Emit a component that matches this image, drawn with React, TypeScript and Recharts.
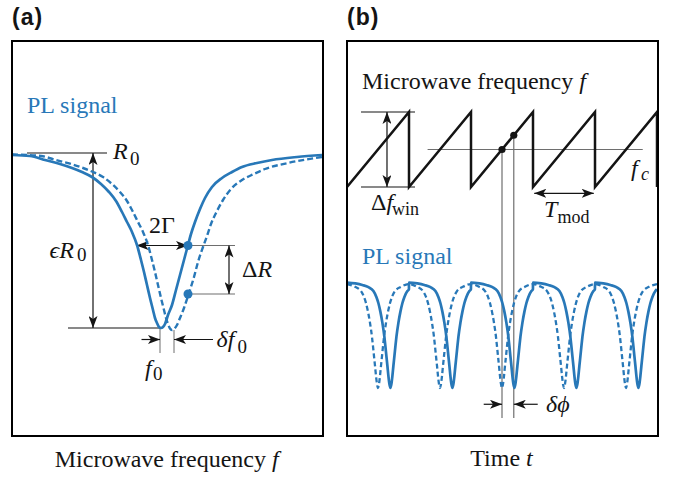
import React from 'react';
import { LineChart, Line, XAxis, YAxis, ReferenceLine, ReferenceDot } from 'recharts';

const BLUE = '#2878b8';
const INK = '#141414';
const GREY = '#6e6e6e';
const SERIF = "'Liberation Serif', 'Times New Roman', serif";

// (a) PL vs microwave frequency; f - f0 in a.u., PL in % of R0
const sweepFreq = [
  -14.9, -13.1, -11.6, -10.1, -8.9, -7.9, -6.9, -6.0, -5.2, -4.5, -3.9, -3.4, -2.9, -2.4, -2.0, -1.7,
  -1.4, -1.1, -0.8, -0.6, -0.4, -0.2, 0, 0.2, 0.4, 0.7, 1.1, 1.5, 1.9, 2.3, 2.7, 3.0, 3.4, 3.9, 4.4,
  5.1, 6.1, 7.1, 8.1, 9.6, 11.1, 13.6, 16.1,
];
const sweepPL = [
  99.6, 99.4, 98.6, 97.8, 97.0, 96.2, 95.2, 93.8, 92.2, 90.4, 88.2, 86.2, 84.2, 81.6, 78.6, 76.2,
  73.6, 71.0, 68.6, 67.0, 66.0, 65.2, 65.0, 65.2, 65.8, 67.6, 69.6, 72.6, 75.6, 78.6, 81.6, 83.8, 86.2, 88.8, 91.0,
  93.2, 95.0, 96.2, 97.2, 98.0, 98.6, 99.2, 99.6,
];
const shiftedFreq = [
  -14.9, -12.0, -10.5, -9.0, -7.8, -6.8, -5.8, -4.9, -4.1, -3.4, -2.8, -2.3, -1.8, -1.3, -0.9, -0.6,
  -0.3, 0.0, 0.3, 0.5, 0.7, 0.9, 1.1, 1.3, 1.6, 1.9, 2.3, 2.8, 3.3, 3.7, 4.2, 4.6, 5.0, 5.6, 6.2,
  7.0, 8.1, 9.3, 10.4, 12.7, 16.1,
];
const shiftedPL = [
  99.7, 99.4, 98.6, 97.8, 97.0, 96.2, 95.2, 93.8, 92.2, 90.4, 88.2, 86.2, 84.2, 81.6, 78.6, 76.2,
  73.6, 71.0, 68.6, 67.0, 65.8, 64.9, 64.6, 64.8, 65.6, 67.0, 69.0, 72.0, 75.2, 78.2, 81.2, 83.4, 85.8, 88.4, 90.6,
  92.8, 94.6, 95.8, 96.8, 98.0, 99.2,
];

// (b) sawtooth: t in units of T_mod, f - fc in units of the window
const sawTime = [0, 1, 1, 2, 2, 3, 3, 4, 4, 5, 5];
const sawFreq = [-0.5, 0.5, -0.5, 0.5, -0.5, 0.5, -0.5, 0.5, -0.5, 0.5, -0.5];

// PL over one modulation period (phase 0..1)
const solidPhase = [
  0, 0.135, 0.248, 0.345, 0.426, 0.474, 0.506, 0.539, 0.571, 0.603, 0.619, 0.635, 0.652, 0.668, 0.684, 0.7,
  0.716, 0.732, 0.748, 0.765, 0.781, 0.797, 0.829, 0.861, 0.894, 0.926, 0.974, 0.999,
];
const solidPL = [
  99.5, 99.2, 98.7, 98.0, 96.7, 94.8, 92.8, 89.9, 86.3, 81.7, 78.7, 75.5, 72.2, 68.9, 66.3, 65.0,
  66.3, 68.9, 72.2, 75.5, 78.7, 81.7, 86.3, 89.9, 92.8, 94.8, 96.7, 97.3,
];
const dashedPhase = [
  0, 0.13, 0.226, 0.274, 0.306, 0.339, 0.371, 0.403, 0.419, 0.435, 0.452, 0.468, 0.484, 0.5,
  0.516, 0.532, 0.548, 0.565, 0.581, 0.597, 0.629, 0.661, 0.694, 0.726, 0.774, 0.87,
];
const dashedPL = [
  99.0, 98.1, 96.7, 94.8, 92.8, 89.9, 86.3, 81.7, 78.7, 75.5, 72.2, 68.9, 66.3, 65.0,
  66.3, 68.9, 72.2, 75.5, 78.7, 81.7, 86.3, 89.9, 92.8, 94.8, 96.7, 98.1,
];
const periods = [0, 1, 2, 3, 4];

const sweepData = sweepFreq.map((f, i) => ({ f, pl: sweepPL[i] }));
const shiftedData = shiftedFreq.map((f, i) => ({ f, pl: shiftedPL[i] }));
const sawData = sawTime.map((t, i) => ({ t, f: sawFreq[i] }));
const tile = (phase: number[], vals: number[]) =>
  periods.flatMap((k) => phase.map((p, i) => ({ t: k + p, pl: vals[i] })));
const solidData = tile(solidPhase, solidPL);
const dashedData = [...tile(dashedPhase, dashedPL), { t: 5, pl: dashedPL[0] }];

type Heads = 'none' | 'start' | 'end' | 'both';
const arrow = (heads: Heads, color = INK, w = 1.2) => (p: any) => (
  <line
    x1={p.x1}
    y1={p.y1}
    x2={p.x2}
    y2={p.y2}
    stroke={color}
    strokeWidth={w}
    markerStart={heads === 'start' || heads === 'both' ? 'url(#ah)' : undefined}
    markerEnd={heads === 'end' || heads === 'both' ? 'url(#ah)' : undefined}
  />
);

const seg = (x1: number, y1: number, x2: number, y2: number) => [
  { x: x1, y: y1 },
  { x: x2, y: y2 },
];

function PanelA() {
  return (
    <LineChart width={310} height={394} margin={{ top: 0, right: 0, bottom: 0, left: 0 }}>
      <XAxis type="number" dataKey="f" domain={[-14.9, 16.1]} allowDataOverflow hide />
      <YAxis type="number" domain={[43.4, 122.2]} allowDataOverflow hide />
      <ReferenceLine segment={seg(-13.4, 100, -5.4, 100)} shape={arrow('none')} />
      <ReferenceLine segment={seg(-9.3, 65, 0, 65)} shape={arrow('none')} />
      <ReferenceLine segment={seg(-6.8, 100, -6.8, 65)} shape={arrow('both')} />
      <ReferenceLine segment={seg(2.7, 81.5, 7.4, 81.5)} shape={arrow('none', GREY)} />
      <ReferenceLine segment={seg(2.7, 71.8, 7.4, 71.8)} shape={arrow('none', GREY)} />
      <ReferenceLine segment={seg(-2.45, 81.5, 2.7, 81.5)} shape={arrow('both')} />
      <ReferenceLine segment={seg(6.8, 81.5, 6.8, 71.8)} shape={arrow('both')} />
      <ReferenceLine segment={seg(-0.1, 65, -0.1, 60)} shape={arrow('none', GREY, 1)} />
      <ReferenceLine segment={seg(1.3, 64.6, 1.3, 60)} shape={arrow('none', GREY, 1)} />
      <ReferenceLine segment={seg(-1.95, 62.7, -0.1, 62.7)} shape={arrow('end')} />
      <ReferenceLine segment={seg(5.2, 62.7, 1.3, 62.7)} shape={arrow('end')} />
      <Line
        data={shiftedData}
        dataKey="pl"
        type="monotone"
        stroke={BLUE}
        strokeWidth={2.4}
        strokeDasharray="6 3"
        dot={false}
        isAnimationActive={false}
      />
      <Line data={sweepData} dataKey="pl" type="monotone" stroke={BLUE} strokeWidth={2.7} dot={false} isAnimationActive={false} />
      <ReferenceDot x={2.7} y={81.5} r={4.5} fill={BLUE} stroke="none" />
      <ReferenceDot x={2.7} y={71.8} r={4.5} fill={BLUE} stroke="none" />
    </LineChart>
  );
}

function PanelB() {
  return (
    <LineChart width={310} height={394} margin={{ top: 0, right: 0, bottom: 0, left: 0 }}>
      <XAxis type="number" dataKey="t" domain={[0, 5]} allowDataOverflow hide />
      <YAxis yAxisId="freq" type="number" domain={[-3.82, 1.433]} allowDataOverflow hide />
      <YAxis yAxisId="pl" type="number" domain={[49.3, 178.18]} allowDataOverflow hide />
      <ReferenceLine yAxisId="freq" segment={seg(0.226, 0.5, 1.097, 0.5)} shape={arrow('none')} />
      <ReferenceLine yAxisId="freq" segment={seg(0.226, -0.5, 1.097, -0.5)} shape={arrow('none')} />
      <ReferenceLine yAxisId="freq" segment={seg(0.645, 0.5, 0.645, -0.5)} shape={arrow('both')} />
      <ReferenceLine yAxisId="freq" segment={seg(1.3, 0, 4.77, 0)} shape={arrow('none', GREY)} />
      <ReferenceLine yAxisId="freq" segment={seg(2.5, 0, 2.5, -3.58)} shape={arrow('none', GREY)} />
      <ReferenceLine yAxisId="freq" segment={seg(2.69, 0.19, 2.69, -3.58)} shape={arrow('none', GREY)} />
      <ReferenceLine yAxisId="freq" segment={seg(3.02, -0.584, 3.98, -0.584)} shape={arrow('both')} />
      <ReferenceLine yAxisId="freq" segment={seg(2.205, -3.397, 2.5, -3.397)} shape={arrow('end')} />
      <ReferenceLine yAxisId="freq" segment={seg(3.076, -3.397, 2.69, -3.397)} shape={arrow('end')} />
      <Line yAxisId="freq" data={sawData} dataKey="f" type="linear" stroke={INK} strokeWidth={2.5} dot={false} isAnimationActive={false} />
      <Line
        yAxisId="pl"
        data={dashedData}
        dataKey="pl"
        type="monotone"
        stroke={BLUE}
        strokeWidth={2.3}
        strokeDasharray="5 3"
        dot={false}
        isAnimationActive={false}
      />
      <Line yAxisId="pl" data={solidData} dataKey="pl" type="monotone" stroke={BLUE} strokeWidth={2.7} dot={false} isAnimationActive={false} />
      <ReferenceDot yAxisId="freq" x={2.5} y={0} r={3.6} fill={INK} stroke="none" />
      <ReferenceDot yAxisId="freq" x={2.69} y={0.19} r={3.6} fill={INK} stroke="none" />
    </LineChart>
  );
}

const box: React.CSSProperties = {
  position: 'absolute',
  top: 40,
  width: 313,
  height: 397,
  border: '2px solid #000',
  boxSizing: 'border-box',
};

export default function App() {
  return (
    <div style={{ position: 'absolute', left: 0, top: 0, width: 673, height: 477, background: '#fff', overflow: 'hidden' }}>
      <svg width={0} height={0} style={{ position: 'absolute' }}>
        <defs>
          <marker
            id="ah"
            viewBox="0 0 12 9"
            refX={12}
            refY={4.5}
            markerWidth={12}
            markerHeight={9}
            markerUnits="userSpaceOnUse"
            orient="auto-start-reverse"
          >
            <path d="M0,0 L12,4.5 L0,9 L3,4.5 Z" fill={INK} />
          </marker>
        </defs>
      </svg>
      <div style={{ position: 'absolute', left: 12, top: 42 }}>
        <PanelA />
      </div>
      <div style={{ position: 'absolute', left: 347, top: 42 }}>
        <PanelB />
      </div>
      <div style={{ ...box, left: 11 }} />
      <div style={{ ...box, left: 346 }} />
      <svg
        width={673}
        height={477}
        style={{ position: 'absolute', left: 0, top: 0, pointerEvents: 'none', fontFamily: SERIF }}
        fontSize={24}
        fill={INK}
      >
        <text x={12} y={25} style={{ fontFamily: "'Liberation Sans', Arial, sans-serif" }} fontWeight="bold" fontSize={23} letterSpacing={1}>
          (a)
        </text>
        <text x={347} y={25} style={{ fontFamily: "'Liberation Sans', Arial, sans-serif" }} fontWeight="bold" fontSize={23} letterSpacing={1}>
          (b)
        </text>

        <text x={27} y={112.5} fill={BLUE}>PL signal</text>
        <text x={113} y={159} fontStyle="italic">
          R<tspan x={130} y={164.5} fontSize={19} fontStyle="normal">0</tspan>
        </text>
        <text x={49.5} y={257.5} fontStyle="italic">
          ϵR<tspan x={77} y={261} fontSize={19} fontStyle="normal">0</tspan>
        </text>
        <text x={149} y={233}>2Γ</text>
        <text x={242} y={276.5}>
          Δ<tspan fontStyle="italic">R</tspan>
        </text>
        <text x={216.5} y={347} fontStyle="italic">
          δf<tspan x={237.5} y={352.5} fontSize={19} fontStyle="normal">0</tspan>
        </text>
        <text x={145} y={375.5} fontStyle="italic">
          f<tspan x={153} y={379.5} fontSize={19} fontStyle="normal">0</tspan>
        </text>
        <text x={166.7} y={466.5} textAnchor="middle">
          Microwave frequency <tspan fontStyle="italic">f</tspan>
        </text>

        <text x={362} y={89}>
          Microwave frequency <tspan fontStyle="italic">f</tspan>
        </text>
        <text x={371} y={210}>
          Δ<tspan fontStyle="italic">f</tspan>
          <tspan x={392} y={215} fontSize={18}>win</tspan>
        </text>
        <text x={544} y={217} fontStyle="italic">
          T<tspan x={557.5} y={223} fontSize={18} fontStyle="normal">mod</tspan>
        </text>
        <text x={631} y={176} fontStyle="italic">
          f<tspan x={641} y={180} fontSize={18}>c</tspan>
        </text>
        <text x={362} y={264} fill={BLUE}>PL signal</text>
        <text x={546} y={411.5} fontStyle="italic">δϕ</text>
        <text x={501.5} y={466} textAnchor="middle">
          Time <tspan fontStyle="italic">t</tspan>
        </text>
      </svg>
    </div>
  );
}
